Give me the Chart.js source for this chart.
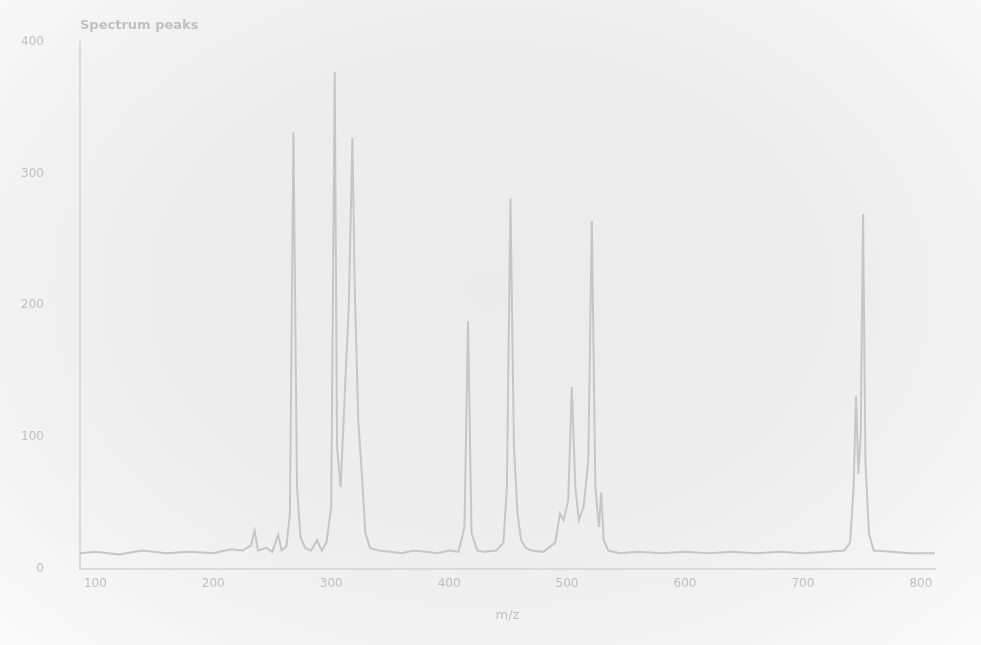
<!DOCTYPE html>
<html>
<head>
<meta charset="utf-8">
<script src="https://cdn.jsdelivr.net/npm/chart.js@4.4.1/dist/chart.umd.min.js"></script>
<style>
  html, body { margin: 0; padding: 0; }
  body {
    width: 981px; height: 645px; overflow: hidden;
    background: radial-gradient(ellipse at 50% 45%, #ebebeb 0%, #eeeeee 55%, #f6f6f6 85%, #fbfbfb 100%);
  }
  #wrap { position: absolute; left: 0; top: 0; width: 981px; height: 645px; }
</style>
</head>
<body>
<div id="wrap"><canvas id="spec" width="981" height="645"></canvas></div>
<script>
// Mass-to-charge positions and measured intensities of the spectrum trace
const mzValues = [
  87, 100, 120, 140, 160, 180, 200, 215, 225, 232, 235, 238, 245, 250, 255, 258,
  262, 265, 268, 271, 274, 278, 283, 288, 292, 296, 300, 303, 305, 308, 311, 315,
  318, 320, 323, 326, 329, 333, 340, 350, 360, 370, 380, 390, 400, 408, 413, 416,
  419, 424, 430, 440, 446, 449, 452, 455, 458, 461, 465, 470, 480, 490, 494, 497,
  501, 504, 507, 510, 514, 518, 521, 524, 527, 529, 531, 535, 545, 560, 580, 600,
  620, 640, 660, 680, 700, 720, 735, 740, 743, 745, 747, 749, 751, 753, 756, 760,
  775, 790, 800, 812
];
const intensities = [
  12, 13, 11, 14, 12, 13, 12, 15, 14, 18, 29, 14, 16, 13, 26, 14,
  17, 42, 331, 62, 24, 16, 14, 22, 14, 20, 47, 377, 92, 62, 122, 202,
  327, 212, 112, 72, 27, 16, 14, 13, 12, 14, 13, 12, 14, 13, 32, 188,
  27, 14, 13, 14, 20, 62, 281, 92, 42, 22, 16, 14, 13, 20, 42, 37,
  52, 138, 62, 37, 47, 82, 264, 62, 32, 58, 22, 14, 12, 13, 12, 13,
  12, 13, 12, 13, 12, 13, 14, 20, 62, 131, 72, 102, 269, 82, 27, 14,
  13, 12, 12, 12
];
const xTickValues = [100, 200, 300, 400, 500, 600, 700, 800];
const yTickValues = [0, 100, 200, 300, 400];

const points = mzValues.map((mz, i) => ({ x: mz, y: intensities[i] }));

const textColor = '#c0c0c0';
const lineColor = '#c6c6c6';

new Chart(document.getElementById('spec'), {
  type: 'line',
  data: {
    datasets: [{
      label: 'Intensity',
      data: points,
      borderColor: lineColor,
      borderWidth: 2,
      pointRadius: 0,
      tension: 0,
      fill: false
    }]
  },
  options: {
    responsive: false,
    animation: false,
    layout: { padding: { left: 10, right: 46, top: 10, bottom: 18 } },
    plugins: {
      legend: { display: false },
      tooltip: { enabled: false },
      title: {
        display: true,
        text: 'Spectrum peaks',
        align: 'start',
        fullSize: false,
        color: textColor,
        font: { family: 'DejaVu Sans', size: 13, weight: 'bold' },
        padding: { top: 8, bottom: 8 }
      }
    },
    scales: {
      x: {
        type: 'linear',
        min: 87,
        max: 812,
        afterBuildTicks: s => { s.ticks = xTickValues.map(v => ({ value: v })); },
        grid: { display: false, drawTicks: true, tickLength: 6, color: '#dedede' },
        border: { color: '#dadada', width: 2 },
        ticks: { color: textColor, font: { family: 'DejaVu Sans', size: 12 }, padding: 2 },
        title: {
          display: true, text: 'm/z', color: textColor,
          font: { family: 'DejaVu Sans', size: 13 }, padding: { top: 14 }
        }
      },
      y: {
        min: 0,
        max: 400,
        afterBuildTicks: s => { s.ticks = yTickValues.map(v => ({ value: v })); },
        afterFit: s => { s.width = 70; },
        grid: { display: false, tickLength: 6 },
        border: { color: '#dadada', width: 2 },
        ticks: { color: textColor, font: { family: 'DejaVu Sans', size: 12 }, padding: 30 }
      }
    }
  }
});
</script>
</body>
</html>
